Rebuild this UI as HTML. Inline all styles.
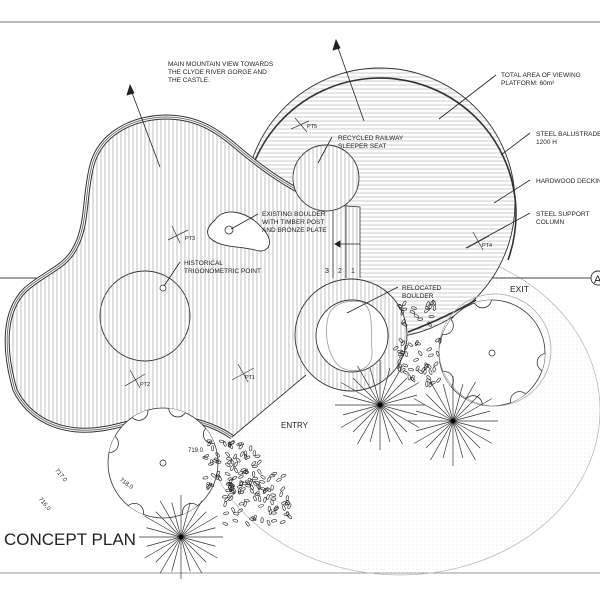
<!DOCTYPE html>
<html><head><meta charset="utf-8"><style>
html,body{margin:0;padding:0;background:#fff;}
svg{display:block;font-family:"Liberation Sans",sans-serif;}
text{fill:#222;}
</style></head><body>
<svg id="s" width="600" height="600" viewBox="0 0 600 600" xmlns="http://www.w3.org/2000/svg">
<defs>
<pattern id="vh" width="4" height="10" patternUnits="userSpaceOnUse"><line x1="1" y1="0" x2="1" y2="10" stroke="#999" stroke-width="0.6"/></pattern>
<pattern id="hh" width="10" height="4" patternUnits="userSpaceOnUse"><line x1="0" y1="1" x2="10" y2="1" stroke="#aaa" stroke-width="0.6"/></pattern>
<pattern id="dot" width="4" height="4" patternUnits="userSpaceOnUse"><circle cx="1" cy="1" r="0.5" fill="#ddd"/></pattern>
<clipPath id="bigc"><ellipse cx="400" cy="410" rx="200" ry="165"/></clipPath>
<clipPath id="c1"><circle cx="163" cy="463" r="55"/></clipPath>
<clipPath id="c2"><circle cx="492" cy="353" r="53"/></clipPath>
</defs>
<line x1="0" y1="22" x2="600" y2="22" stroke="#777" stroke-width="1"/>
<line x1="0" y1="573" x2="600" y2="573" stroke="#999" stroke-width="1"/>
<rect x="200" y="240" width="400" height="333" fill="url(#dot)" clip-path="url(#bigc)"/>
<ellipse cx="400" cy="410" rx="200" ry="165" fill="none" stroke="#bbb" stroke-width="0.8"/>
<line x1="0" y1="278" x2="600" y2="278" stroke="#444" stroke-width="0.9"/>
<circle cx="380" cy="203" r="135" fill="#fff"/>
<circle cx="380" cy="203" r="135" fill="url(#hh)" stroke="#333" stroke-width="0.9"/>
<path d="M252,168 A131,131 0 0 1 508,260" fill="none" stroke="#333" stroke-width="1.6"/>
<path d="M408,332 Q445,318 476,300" fill="none" stroke="#333" stroke-width="1.6"/>
<path d="M333,205 C300,195 270,175 240,150 C215,128 195,117 165,117 C130,118 100,135 92,165 C84,195 88,225 75,248 C65,268 45,272 25,290 C5,310 2,345 15,390 C30,420 60,432 92,430 C120,428 140,417 165,417 C190,417 215,425 232,437 L306,375 L300,330 L333,280 L360,280 L360,207 Z" fill="#fff"/>
<path d="M333,205 C300,195 270,175 240,150 C215,128 195,117 165,117 C130,118 100,135 92,165 C84,195 88,225 75,248 C65,268 45,272 25,290 C5,310 2,345 15,390 C30,420 60,432 92,430 C120,428 140,417 165,417 C190,417 215,425 232,437 L306,375 L300,330 L333,280 L360,280 L360,207 Z" fill="url(#vh)"/>
<path d="M333,205 C300,195 270,175 240,150 C215,128 195,117 165,117 C130,118 100,135 92,165 C84,195 88,225 75,248 C65,268 45,272 25,290 C5,310 2,345 15,390 C30,420 60,432 92,430 C120,428 140,417 165,417 C190,417 215,425 232,437" fill="none" stroke="#333" stroke-width="5"/>
<path d="M333,205 C300,195 270,175 240,150 C215,128 195,117 165,117 C130,118 100,135 92,165 C84,195 88,225 75,248 C65,268 45,272 25,290 C5,310 2,345 15,390 C30,420 60,432 92,430 C120,428 140,417 165,417 C190,417 215,425 232,437" fill="none" stroke="#fff" stroke-width="3"/>
<path d="M333,205 C300,195 270,175 240,150 C215,128 195,117 165,117 C130,118 100,135 92,165 C84,195 88,225 75,248 C65,268 45,272 25,290 C5,310 2,345 15,390 C30,420 60,432 92,430 C120,428 140,417 165,417 C190,417 215,425 232,437" fill="none" stroke="#777" stroke-width="1"/>
<line x1="232" y1="437" x2="306" y2="375" stroke="#333" stroke-width="0.9"/>
<path d="M333,205 L360,207 L360,278 M333,205 L333,278 M346,206 L346,278" fill="none" stroke="#333" stroke-width="0.8"/>
<circle cx="145" cy="316" r="45" fill="#fff" stroke="#333" stroke-width="0.9"/>
<circle cx="145" cy="316" r="45" fill="url(#vh)"/>
<circle cx="326" cy="178" r="33" fill="#fff" stroke="#333" stroke-width="0.9"/>
<circle cx="326" cy="178" r="33" fill="url(#vh)"/>
<circle cx="351" cy="335" r="56" fill="#fff"/>
<circle cx="351" cy="335" r="56" fill="url(#vh)" stroke="#333" stroke-width="0.9"/>
<circle cx="352" cy="336" r="36" fill="#fff" stroke="#333" stroke-width="0.9"/>
<path d="M362,302 C375,310 370,330 372,350 C374,368 358,375 342,368 C328,360 322,330 330,312 C336,302 350,300 362,302Z" fill="none" stroke="#999" stroke-width="0.8"/>
<path d="M215,220 C225,205 250,213 262,228 C275,240 270,255 255,250 C240,246 220,248 210,238 C205,232 208,226 215,220Z" fill="#fff" stroke="#333" stroke-width="0.9"/>
<circle cx="229" cy="230" r="4" fill="none" stroke="#333" stroke-width="0.8"/>
<circle cx="163" cy="288" r="3" fill="#fff" stroke="#333" stroke-width="0.8"/>
<g id="canopies" stroke="#333" stroke-width="0.8"></g>
<circle cx="495" cy="350" r="56" fill="none" stroke="#aaa" stroke-width="0.8"/>
<circle cx="163" cy="463" r="3" fill="none" stroke="#333" stroke-width="0.8"/>
<circle cx="492" cy="353" r="3" fill="none" stroke="#333" stroke-width="0.8"/>
<g id="leaves" fill="none" stroke="#222" stroke-width="0.6"></g>
<g id="stars" stroke="#333" stroke-width="0.7"></g>
<g stroke="#222" stroke-width="0.8" fill="#222">
<line x1="160" y1="167" x2="131" y2="90"/><polygon points="130,85 127,95 134,93"/>
<line x1="364" y1="121" x2="337" y2="45"/><polygon points="336,40 333,50 340,48"/>
<line x1="496" y1="75" x2="439" y2="119"/>
<line x1="530" y1="133" x2="501" y2="155"/>
<line x1="530" y1="180" x2="494" y2="203"/>
<line x1="530" y1="213" x2="466" y2="248"/>
<line x1="332" y1="137" x2="318" y2="163"/>
<line x1="258" y1="214" x2="231" y2="229"/>
<line x1="180" y1="262" x2="164" y2="286"/>
<line x1="398" y1="287" x2="347" y2="313"/>
<line x1="360" y1="244" x2="338" y2="244"/><polygon points="335,244 340,241 340,247"/>
</g>
<g stroke="#333" stroke-width="0.7" fill="none">
<path d="M295,118 l12,14 M291,129 l18,-8"/>
<path d="M172,226 l8,17 M168,240 l20,-10"/>
<path d="M130,370 l10,18 M125,386 l20,-12"/>
<path d="M238,364 l10,18 M232,380 l22,-12"/>
<path d="M473,232 l10,18 M467,248 l22,-12"/>
</g>
<g font-size="6.5">
<text x="168" y="66">MAIN MOUNTAIN VIEW TOWARDS</text>
<text x="168" y="74">THE CLYDE RIVER GORGE AND</text>
<text x="168" y="82">THE CASTLE.</text>
<text x="501" y="77">TOTAL AREA OF VIEWING</text>
<text x="501" y="85">PLATFORM: 60m²</text>
<text x="536" y="136">STEEL BALUSTRADE</text>
<text x="536" y="144">1200 H</text>
<text x="536" y="183">HARDWOOD DECKING</text>
<text x="536" y="216">STEEL SUPPORT</text>
<text x="536" y="224">COLUMN</text>
<text x="338" y="140">RECYCLED RAILWAY</text>
<text x="338" y="148">SLEEPER SEAT</text>
<text x="262" y="216">EXISTING BOULDER</text>
<text x="262" y="224">WITH TIMBER POST</text>
<text x="262" y="232">AND BRONZE PLATE</text>
<text x="184" y="265">HISTORICAL</text>
<text x="184" y="273">TRIGONOMETRIC POINT</text>
<text x="402" y="290">RELOCATED</text>
<text x="402" y="298">BOULDER</text>
<text x="307" y="128" font-size="5.5">PT5</text>
<text x="185" y="240" font-size="5.5">PT3</text>
<text x="482" y="247" font-size="5.5">PT4</text>
<text x="140" y="386" font-size="5.5">PT2</text>
<text x="245" y="379" font-size="5.5">PT1</text>
<text x="325" y="273" font-size="7">3</text>
<text x="338" y="273" font-size="7">2</text>
<text x="351" y="273" font-size="7">1</text>
<text x="510" y="292" font-size="8.5">EXIT</text>
<text x="281" y="428" font-size="8">ENTRY</text>
<text x="188" y="452" font-size="6">719.0</text>
<text x="120" y="482" font-size="6" transform="rotate(35 122 480)">718.0</text>
<text x="56" y="472" font-size="6" transform="rotate(50 57 470)">717.0</text>
<text x="40" y="500" font-size="6" transform="rotate(50 40 498)">716.0</text>
<text x="4" y="545" font-size="17" fill="#111">CONCEPT PLAN</text>
</g>
<circle cx="598" cy="278" r="7" fill="#fff" stroke="#333" stroke-width="0.9"/>
<text x="594" y="283" font-size="11">A</text>
</svg>
<script>
var NS="http://www.w3.org/2000/svg";
function el(t,a,p){var e=document.createElementNS(NS,t);for(var k in a)e.setAttribute(k,a[k]);document.getElementById(p).appendChild(e);return e;}
function canopy(cx,cy,r,angs,clip){el("circle",{cx:cx,cy:cy,r:r,fill:"#fff"},"canopies");
angs.forEach(function(a){a=a*Math.PI/180;el("circle",{cx:cx+(r+2)*Math.cos(a),cy:cy+(r+2)*Math.sin(a),r:9,fill:"#fff","clip-path":"url(#"+clip+")"},"canopies");});}
canopy(163,463,55,[200,245,285,330,120,60],"c1");canopy(492,353,53,[210,260,10,60,110,150],"c2");
function star(cx,cy,r){for(var i=0;i<24;i++){var a=i/24*Math.PI*2;var rr=(i%2?r*0.85:r);el("line",{x1:cx,y1:cy,x2:cx+rr*Math.cos(a),y2:cy+rr*Math.sin(a)},"stars");}
el("circle",{cx:cx,cy:cy,r:2.5,fill:"#000"},"stars");}
star(380,405,45);star(453,421,45);star(181,537,42);
var s=7;function rnd(){s=(s*9301+49297)%233280;return s/233280;}
function cluster(x0,y0,w,h,n){for(var i=0;i<n;i++){var x=x0+rnd()*w,y=y0+rnd()*h;el("ellipse",{cx:x,cy:y,rx:1.2,ry:2.6,transform:"rotate("+(rnd()*180)+" "+x+" "+y+")"},"leaves");}}
cluster(205,440,55,50,60);cluster(225,470,65,55,90);cluster(395,340,45,45,45);cluster(400,300,35,30,20);
</script>
</body></html>
